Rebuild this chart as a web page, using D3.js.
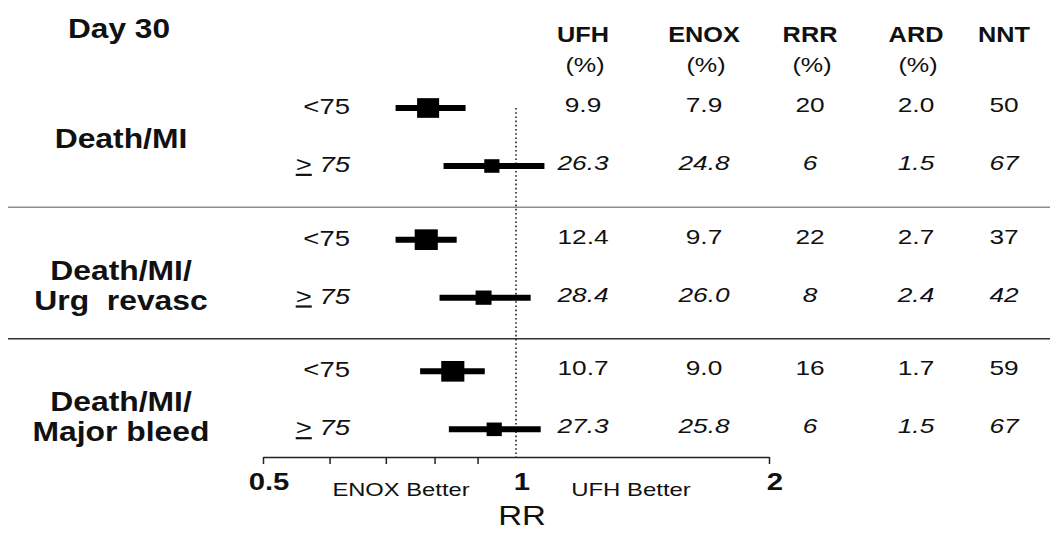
<!DOCTYPE html>
<html>
<head>
<meta charset="utf-8">
<script src="https://cdn.jsdelivr.net/npm/d3@7"></script>
<style>
  html, body { margin: 0; padding: 0; background: #fff; }
  svg { display: block; }
  text { font-family: "Liberation Sans", Arial, sans-serif; fill: #111; white-space: pre; }
</style>
</head>
<body>
<svg id="chart" width="1050" height="539"></svg>
<script>
// ---------------- data ----------------
const title = "Day 30";
const groups = [["Death/MI"], ["Death/MI/", "Urg\u00a0 revasc"], ["Death/MI/", "Major bleed"]];
const ageLabels = ["<75", "75"];          // second row drawn as underlined ">" + "75"
const columns = ["UFH", "ENOX", "RRR", "ARD", "NNT"];
const columnUnits = ["(%)", "(%)", "(%)", "(%)", ""];
const ufh  = [9.9, 26.3, 12.4, 28.4, 10.7, 27.3];
const enox = [7.9, 24.8, 9.7, 26.0, 9.0, 25.8];
const rrr  = [20, 6, 22, 8, 16, 6];
const ard  = [2.0, 1.5, 2.7, 2.4, 1.7, 1.5];
const nnt  = [50, 67, 37, 42, 59, 67];
const rr     = [0.786, 0.936, 0.782, 0.915, 0.841, 0.942];
const rrLow  = [0.719, 0.820, 0.719, 0.811, 0.769, 0.832];
const rrHigh = [0.871, 1.081, 0.850, 1.041, 0.918, 1.070];
const boxWeight = [0.80, 0.38, 0.88, 0.42, 0.88, 0.38];
const axisTicks = [0.5, 0.6, 0.7, 0.8, 0.9, 2];
const axisLabels = [0.5, 1, 2];
const axisTitle = "RR";
const sideLabels = ["ENOX Better", "UFH Better"];

// ---------------- layout ----------------
const svg = d3.select("#chart");
const x = d3.scaleLog().domain([0.5, 2]).range([263, 769]);
const GROUP_GAP = 0.27;
const rowPos = i => Math.floor(i / 2) * (2 + GROUP_GAP) + (i % 2);
const y = d3.scaleLinear().domain([0, 1]).range([108, 166]);
const boxSize = d3.scaleSqrt().domain([0, 1]).range([0, 22]);
const colCenters = { UFH: 583, ENOX: 704, RRR: 810, ARD: 916, NNT: 1004 };
const f1 = d3.format(".1f"), f0 = d3.format("d");

function label(x0, y0, str, o = {}) {
  return svg.append("text")
    .attr("transform", `translate(${x0},${y0}) scale(${o.sx || 1.2},1)`)
    .attr("text-anchor", o.anchor || "middle")
    .style("font-size", (o.size || 21) + "px")
    .style("font-weight", o.bold ? "bold" : "normal")
    .style("font-style", o.italic ? "italic" : "normal")
    .text(str);
}

// title
label(68, 38, title, { anchor: "start", size: 28, bold: true, sx: 1.13 });

// column headers
columns.forEach((c, j) => {
  label(colCenters[c], 42, c, { size: 22, bold: true, sx: 1.15 });
  if (columnUnits[j]) label(colCenters[c] + 2, 72, columnUnits[j], { size: 21, sx: 1.2 });
});

// separator lines
[1, 2].forEach((g, k) => {
  const yy = y(g * (2 + GROUP_GAP) - 0.56);
  svg.append("line").attr("x1", 8).attr("x2", 1050).attr("y1", yy).attr("y2", yy)
    .attr("stroke", k === 0 ? "#8c8c8c" : "#333").attr("stroke-width", 1.5);
});

// group labels
groups.forEach((lines, g) => {
  const cy = y(g * (2 + GROUP_GAP) + 0.5);
  lines.forEach((ln, k) => label(121, cy + 11 + k * 30, ln, { size: 27, bold: true, sx: 1.18 }));
});

// dotted reference line at RR = 1
svg.append("line").attr("x1", x(1)).attr("x2", x(1))
  .attr("y1", y(0)).attr("y2", 457)
  .attr("stroke", "#222").attr("stroke-width", 1.6).attr("stroke-dasharray", "1.6,2.6");

// rows
d3.range(ufh.length).forEach(i => {
  const yy = y(rowPos(i));
  const it = i % 2 === 1;
  if (!it) {
    label(350, yy + 6, ageLabels[0], { anchor: "end", size: 22, sx: 1.25 });
  } else {
    const t = svg.append("text")
      .attr("transform", `translate(350,${yy + 6}) scale(1.25,1)`)
      .attr("text-anchor", "end")
      .style("font-size", "22px");
    t.append("tspan").style("text-decoration", "underline").text(">");
    t.append("tspan").style("font-style", "italic").text(" " + ageLabels[1]);
  }
  svg.append("line").attr("x1", x(rrLow[i])).attr("x2", x(rrHigh[i]))
    .attr("y1", yy).attr("y2", yy).attr("stroke", "#000").attr("stroke-width", 6);
  const h = boxSize(boxWeight[i]), w = h * 1.12;
  svg.append("rect").attr("x", x(rr[i]) - w / 2).attr("y", yy - h / 2)
    .attr("width", w).attr("height", h).attr("fill", "#000");
  const vals = [f1(ufh[i]), f1(enox[i]), f0(rrr[i]), f1(ard[i]), f0(nnt[i])];
  vals.forEach((v, j) => label(colCenters[columns[j]], yy + 4, v, { size: 21, sx: 1.25, italic: it }));
});

// axis
const axis = d3.axisBottom(x).tickValues(axisTicks).tickFormat("").tickSize(7).tickSizeOuter(0);
const ag = svg.append("g").attr("transform", "translate(0,457)").call(axis);
ag.selectAll("path, line").attr("stroke", "#222").attr("stroke-width", 1.5);

axisLabels.forEach(v => label(x(v) + 6, 490, String(v), { size: 24, bold: true, sx: 1.22 }));
label(401, 496, sideLabels[0], { size: 18, sx: 1.32 });
label(631, 496, sideLabels[1], { size: 18, sx: 1.33 });
label(522, 525, axisTitle, { size: 28, sx: 1.18 });
</script>
</body>
</html>
